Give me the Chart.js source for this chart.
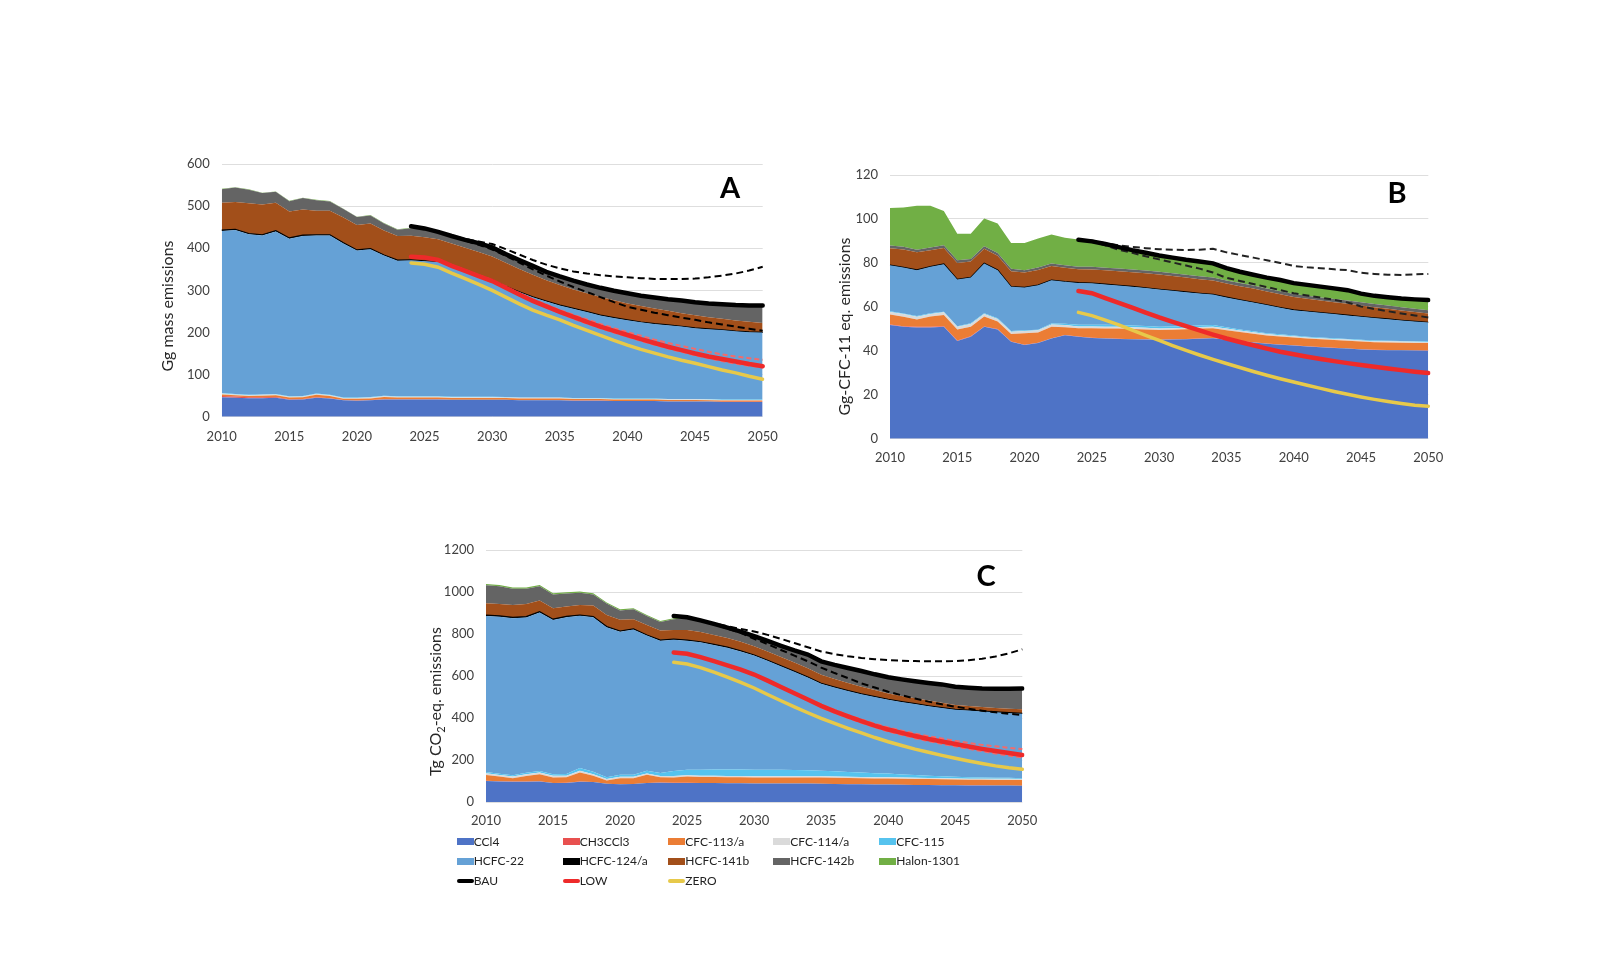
<!DOCTYPE html>
<html>
<head>
<meta charset="utf-8">
<script src="https://cdn.jsdelivr.net/npm/chart.js@4.4.1/dist/chart.umd.min.js"></script>
<style>
  html, body { margin: 0; padding: 0; background: #fff; }
  body { width: 1600px; height: 970px; position: relative; overflow: hidden; font-family: Lato, "Open Sans", sans-serif; }
  canvas { position: absolute; }
  .item { position: absolute; white-space: nowrap; font-size: 12px; color: #222; line-height: 14px; }
  .sw { position: absolute; left: 0; }
  .item span.txt { position: absolute; left: 17px; top: 0; }
</style>
</head>
<body>
<canvas id="chartA" width="640" height="320" style="left:150px;top:140px"></canvas>
<canvas id="chartB" width="650" height="320" style="left:810px;top:150px"></canvas>
<canvas id="chartC" width="640" height="310" style="left:410px;top:525px"></canvas>
<div id="legend"></div>
<script>
// ---- categories
const years = [2010,2011,2012,2013,2014,2015,2016,2017,2018,2019,2020,2021,2022,2023,2024,2025,2026,2027,2028,2029,
               2030,2031,2032,2033,2034,2035,2036,2037,2038,2039,2040,2041,2042,2043,2044,2045,2046,2047,2048,2049,2050];

const gasNames  = ['CCl4','CH3CCl3','CFC-113/a','CFC-114/a','CFC-115','HCFC-22','HCFC-124/a','HCFC-141b','HCFC-142b','Halon-1301'];
const gasColors = ['#4E73C6','#E8504F','#EB7D35','#DADADA','#56C3EE','#65A1D6','#000000','#A24F1A','#646464','#71AF45'];

// ---- A: Gg mass emissions
const ccl4A    = [46,45,44,44,45,40,41,45,43,39,38,39,41,41,41,41,41,40,40,40,40,40,39,39,39,39,38,38,38,37,37,37,37,36,36,36,36,35,35,35,35];
const ch3ccl3A = [3,3,2,2,2,1.5,1,1,1,0.5,0.5,0.5,0.5,0.5,0.5,0.3,0.3,0.3,0.3,0.3,0.3,0.3,0.3,0.3,0.3,0.3,0.3,0.3,0.3,0.3,0.3,0.3,0.3,0.3,0.3,0.3,0.3,0.3,0.3,0.3,0.3];
const cfc113A  = [4,3,3,4,4,4,4,6,5,3,4,4,5,4,4,4,4,4,4,4,4,4,4,4,4,4,3.5,3.5,3.5,3.5,3.5,3.5,3.5,3.5,3.5,3.5,3,3,3,3,3];
const cfc114A  = [2,2,2,2,2,2,2,2,2,2,2,2,2,2,2,2,2,2,2,2,2,1.5,1.5,1.5,1.5,1.5,1.5,1.5,1.5,1.5,1.5,1.5,1.5,1.5,1.5,1.5,1.5,1.5,1.5,1.5,1.5];
const cfc115A  = [1,1,1,1,1,1,1,1,1,1,1,1,1,1,1,1,1,1,1,1,1,1,1,1,1,1,1,1,1,1,1,1,1,1,1,1,1,1,1,1,1];
const hcfc22A  = [385,389,381,377,386,374,380,375,378,366,349,351,333,322,323,321,319,310,299,287,277,262,250,238,228,218,212,204,196,191,186,181,177,175,172,168,166,165,162,160,159];
const hcfc124A = [2,2,2,2,2,2,2,2,2,1.5,1.5,1.5,1.5,1.5,1,1,1,1,1,1,1,1,1,1,1,1,1,1,1,1,0.5,0.5,0.5,0.5,0.5,0.5,0.5,0.5,0.5,0.5,0.5];
const hcfc141bA = [65,65,72,72,66,63,61,57,57,60,59,60,58,57,57,56,53,53,54,56,55,56,54,52,49,48,45,44,43,41,39,38,36,34,31,30,28,26,25,24,22];
const hcfc142bA = [32,34,32,27,26,24,27,25,22,20,19,19,17,15,18,20,17,17,18,20,21,19,20,20,19,19,20,20,21,22,23,23,25,26,29,30,32,34,36,38,41];
const halonA   = [1,1,1,1,1,1,1,1,1,1,1,1,1,1,1,1,1,1,1,1,1,1,1,1,1,1,1,1,1,1,1,1,1,1,1,1,1,1,1,1,1];

const bauA     = [452,447,439,429,420,412,402,386,372,358,344,333,323,314,306,299,293,287,283,279,276,272,269,267,265,264,264]; // from 2024
const bauHighA = [447,440,430,422,416,410,398,385,372,361,352,345,340,336,333,331,329,327,327,327,328,331,335,340,347,356]; // from 2025
const bauLowA  = [447,439,429,418,408,397,382,366,350,335,321,308,296,284,272,261,254,247,241,235,230,224,219,214,209,204]; // from 2025
const lowA     = [380,378,372,358,346,334,322,306,290,275,262,249,237,225,214,204,194,184,175,166,158,150,143,137,131,125,120]; // from 2024
const lowHighA = [380,378,373,360,348,336,324,309,293,279,266,253,242,231,220,210,201,192,183,175,168,161,154,148,143,139,135];
const lowLowA  = [380,378,371,357,344,332,320,304,288,273,259,246,233,221,210,200,190,180,171,162,154,146,139,132,126,121,117];
const zeroA    = [365,362,355,341,328,314,300,284,268,253,241,230,217,205,193,181,170,160,151,142,134,127,119,111,104,96,89];

// ---- B: Gg CFC-11 eq. emissions
const ccl4B    = [51.7,50.9,50.6,50.6,50.9,44.5,46.4,50.9,49.7,44.1,42.6,43.6,45.6,47.1,46.4,45.8,45.6,45.4,45.2,45.1,45.0,45.1,45.3,45.5,45.7,45.0,44.4,43.8,43.2,42.8,42.4,42.0,41.6,41.3,41.0,40.6,40.4,40.3,40.2,40.1,40.0];
const ch3ccl3B = [0.3,0.3,0.3,0.3,0.3,0.2,0.2,0.2,0.2,0.1,0.1,0.1,0.1,0.1,0.1,0.1,0.1,0.1,0.1,0.1,0.1,0.1,0.1,0.1,0.1,0.1,0.1,0.1,0.1,0.1,0.1,0.1,0.1,0.1,0.1,0.1,0.1,0.1,0.1,0.1,0.1];
const cfc113B  = [4.5,4.3,3.4,4.7,5.1,5.0,4.4,4.5,3.4,3.5,5.3,4.6,5.3,3.5,3.8,4.4,4.5,4.6,4.6,4.5,4.4,4.4,4.4,4.5,4.5,4.3,4.1,3.9,3.7,3.6,3.5,3.5,3.5,3.5,3.5,3.5,3.4,3.4,3.4,3.4,3.4];
const cfc114B  = [1.2,1.2,1.2,1.2,1.2,1.2,1.2,1.2,1.2,1.0,1.0,1.0,1.0,1.0,0.8,0.8,0.8,0.8,0.8,0.8,0.7,0.7,0.7,0.7,0.7,0.7,0.6,0.6,0.6,0.6,0.6,0.5,0.5,0.5,0.5,0.5,0.5,0.5,0.5,0.5,0.5];
const cfc115B  = [0.3,0.3,0.3,0.3,0.3,0.3,0.3,0.3,0.3,0.3,0.3,0.3,0.4,0.6,0.8,0.8,0.8,0.8,0.8,0.8,0.8,0.8,0.8,0.7,0.7,0.6,0.5,0.5,0.4,0.4,0.4,0.3,0.3,0.3,0.3,0.3,0.3,0.3,0.3,0.3,0.3];
const hcfc22B  = [20.9,20.9,20.9,21.1,21.6,21.2,20.8,22.6,21.9,20.1,19.5,20.2,19.7,19.1,19.0,18.8,18.4,18.0,17.7,17.3,16.9,16.2,15.4,14.6,13.9,13.6,13.4,13.1,12.8,12.1,11.5,11.5,11.3,11.0,10.7,10.5,10.2,9.8,9.3,8.9,8.6];
const hcfc124B = [0.1,0.1,0.1,0.1,0.1,0.1,0.1,0.1,0.1,0.1,0.1,0.1,0.1,0.1,0.1,0.1,0.1,0.1,0.1,0.1,0.1,0.1,0.1,0.1,0.1,0.1,0.1,0.1,0.1,0.1,0.1,0.1,0.1,0.1,0.1,0.1,0.1,0.1,0.1,0.1,0.1];
const hcfc141bB = [7.7,8.1,8.0,7.5,7.3,7.5,7.2,6.6,6.5,7.0,6.7,6.9,6.4,6.3,6.1,6.2,6.3,6.4,6.5,6.6,6.7,6.6,6.5,6.4,6.3,6.2,6.2,6.2,6.1,6.0,5.9,5.7,5.5,5.3,5.2,5.0,4.8,4.6,4.4,4.2,4.0];
const hcfc142bB = [1.2,1.2,1.2,1.2,1.2,1.2,1.2,1.2,1.2,1.1,1.1,1.1,1.1,1.1,1.1,1.2,1.2,1.2,1.2,1.2,1.3,1.3,1.3,1.3,1.3,1.4,1.4,1.4,1.4,1.4,1.4,1.4,1.4,1.5,1.5,1.5,1.5,1.5,1.5,1.5,1.5];
const halonB   = [17.1,17.9,20.0,19.0,15.6,12.1,11.5,12.6,13.4,11.8,12.4,13.2,13.2,12.5,12.4,11.6,10.8,9.8,8.8,8.1,7.4,7.1,6.8,6.7,6.5,5.6,5.2,4.9,4.9,5.1,4.9,4.9,4.9,4.8,4.7,3.9,3.7,3.8,4.0,4.3,4.6];

const bauB     = [90.5,89.8,88.6,87.2,85.8,84.6,83.4,82.4,81.4,80.6,79.8,77.6,76.0,74.6,73.3,72.2,70.8,70.0,69.2,68.4,67.6,66.0,65.0,64.4,63.8,63.4,63.1]; // from 2024
const bauHighB = [90.5,90.2,89.0,88.0,87.3,86.7,86.2,86.0,85.9,86.0,86.4,84.8,83.6,82.4,81.2,80.0,78.6,78.0,77.6,77.1,76.7,75.5,75.0,74.6,74.5,74.8,75.0];
const bauLowB  = [90.5,89.8,88.0,86.0,84.6,83.0,81.6,80.2,78.8,77.4,75.6,73.2,71.8,70.4,69.0,67.6,66.2,65.2,64.2,63.2,62.0,60.2,59.0,58.0,57.0,56.1,55.2];
const lowB     = [67.2,66.2,64.0,61.8,59.6,57.4,55.2,53.2,51.2,49.3,47.4,45.6,44.0,42.5,41.0,39.6,38.4,37.3,36.3,35.3,34.4,33.5,32.7,31.9,31.2,30.5,29.9];
const zeroB    = [57.5,56.0,54.0,51.8,49.4,47.0,44.7,42.4,40.2,38.1,36.1,34.2,32.4,30.6,28.9,27.3,25.8,24.3,22.9,21.5,20.2,19.0,17.9,16.9,16.0,15.2,14.8];

// ---- C: Tg CO2-eq. emissions
const ccl4C    = [100,98,97,97,98,90,91,97,95,87,84,86,90,92,91,91,90,90,89,89,88,88,88,88,88,87,86,85,84,83,83,82,81,81,80,80,79,79,78,78,77];
const ch3ccl3C = [1,1,1,1,1,0.5,0.5,0.5,0.5,0.3,0.3,0.3,0.3,0.3,0.2,0.2,0.2,0.2,0.2,0.2,0.2,0.2,0.2,0.2,0.2,0.2,0.2,0.2,0.2,0.2,0.2,0.2,0.2,0.2,0.2,0.2,0.2,0.2,0.2,0.2,0.2];
const cfc113C  = [28,22,15,26,33,26,26,43,29,15,29,27,39,25,26,30,29,29,29,29,29,29,29,29,29,29,29,29,29,29,29,28,28,28,28,27,27,27,27,27,27];
const cfc114C  = [8,8,8,8,8,8,8,8,8,7,7,7,7,7,7,6,6,6,6,6,6,6,6,6,6,6,6,6,6,6,6,6,6,5,5,5,5,5,5,5,5];
const cfc115C  = [6,6,6,7,8,8,8,14,12,9,10,10,12,14,23,26,28,29,30,30,30,30,30,29,28,27,25,23,21,19,17,15,13,11,9,8,7,6,5,5,4];
const hcfc22C  = [743,747,748,740,754,734,746,724,735,714,681,691,644,630,626,615,607,593,580,563,545,520,493,468,442,414,399,385,373,363,352,345,338,331,325,319,317,314,312,308,307];
const hcfc124C = [4,4,4,4,4,4,4,4,4,3,3,3,3,3,3,3,3,3,3,3,2,2,2,2,2,2,2,2,2,2,2,2,2,2,2,2,2,2,2,2,2];
const hcfc141bC = [56,57,59,60,53,52,47,48,52,55,53,46,48,45,43,48,46,45,44,43,42,42,42,42,42,41,39,37,34,31,28,27,26,25,23,21,20,19,19,19,19];
const hcfc142bC = [86,84,78,73,68,66,62,58,53,55,45,47,42,41,51,57,52,49,45,44,44,46,51,55,62,61,64,68,72,72,74,76,78,81,85,84,84,86,89,93,97];
const halonC   = [6,6,6,6,6,6,6,6,6,5,5,5,5,5,5,4,4,4,4,4,4,4,3,3,3,3,3,3,3,3,3,3,3,3,3,3,3,2,2,2,2];

const bauC     = [886,880,865,848,830,811,790,767,744,722,702,670,653,638,624,608,594,584,575,567,560,549,544,540,539,539,540]; // from 2024
const bauHighC = [880,865,850,837,824,812,796,777,757,737,717,704,694,686,680,676,673,671,670,670,671,675,682,693,708,727]; // from 2025
const bauLowC  = [880,865,846,826,805,777,752,724,697,670,640,614,590,565,545,525,508,493,478,465,454,444,435,427,420,414]; // from 2025
const lowC     = [712,706,690,671,651,630,607,578,548,518,488,458,432,408,385,364,345,329,314,300,288,276,264,253,243,233,224];
const lowHighC = [712,706,690,671,651,630,608,580,551,522,493,464,439,415,393,373,355,340,326,313,302,291,281,272,265,258,252];
const lowLowC  = [712,706,690,671,651,630,606,576,545,514,483,452,425,400,377,356,336,320,304,290,277,265,253,242,231,221,212];
const zeroC    = [665,657,640,618,595,570,543,512,482,453,425,398,374,351,329,307,287,269,252,237,222,208,195,183,172,163,156];

// ---- helpers
function fromYear(start, values) {
  return years.map(y => (y < start ? null : values[y - start]));
}

const textPlugin = {
  id: 'panelText',
  afterDraw(chart, args, opts) {
    const ctx = chart.ctx;
    ctx.save();
    ctx.fillStyle = '#000';
    ctx.font = 'bold 29px Lato';
    ctx.textAlign = 'center';
    ctx.textBaseline = 'middle';
    ctx.fillText(opts.letter, opts.letterX, opts.letterY);

    // rotated y title, parts allow a subscript
    ctx.translate(opts.titleX, opts.titleY);
    ctx.rotate(-Math.PI / 2);
    ctx.fillStyle = '#262626';
    ctx.textAlign = 'left';
    const big = '16px Lato', small = '11px Lato';
    let total = 0;
    opts.title.forEach(p => { ctx.font = p.sub ? small : big; total += ctx.measureText(p.t).width; });
    let x = -total / 2;
    opts.title.forEach(p => {
      ctx.font = p.sub ? small : big;
      ctx.fillText(p.t, x, p.sub ? 5 : 0);
      x += ctx.measureText(p.t).width;
    });
    ctx.restore();
  }
};

function makeChart(id, cfg) {
  const datasets = cfg.gases.map((vals, i) => ({
    label: gasNames[i],
    data: vals,
    stack: 'gases',
    backgroundColor: gasColors[i],
    borderColor: gasColors[i],
    borderWidth: gasNames[i] === 'HCFC-124/a' ? 1.2 : 0,
    pointRadius: 0,
    fill: i === 0 ? 'origin' : '-1',
    order: 3
  }));
  cfg.lines.forEach((ln, i) => {
    datasets.push({
      label: ln.name,
      data: fromYear(ln.start, ln.values),
      stack: 'line' + i,
      borderColor: ln.color,
      borderWidth: ln.width,
      borderDash: ln.dash || [],
      borderCapStyle: ln.dash ? 'butt' : 'round',
      pointRadius: 0,
      fill: false,
      order: ln.order
    });
  });

  return new Chart(document.getElementById(id), {
    type: 'line',
    data: { labels: years, datasets: datasets },
    options: {
      responsive: false,
      animation: false,
      layout: { padding: { top: cfg.padTop, right: cfg.padRight, left: 0, bottom: 0 } },
      scales: {
        x: {
          grid: { display: false },
          border: { display: false },
          ticks: {
            autoSkip: false, maxRotation: 0, padding: cfg.xPad,
            color: '#404040', font: { family: 'Lato', size: 13 },
            callback: (v, i) => (years[i] % 5 === 0 ? String(years[i]) : '')
          },
          afterFit: s => { s.height = cfg.xHeight; }
        },
        y: {
          stacked: true,
          min: 0, max: cfg.yMax,
          ticks: { stepSize: cfg.yStep, padding: 12, color: '#404040', font: { family: 'Lato', size: 13 },
                   callback: v => String(v) },
          grid: { color: '#DEDEDE', drawTicks: false },
          border: { display: false },
          afterFit: s => { s.width = cfg.yWidth; }
        }
      },
      plugins: {
        legend: { display: false },
        tooltip: { enabled: false },
        panelText: cfg.text
      }
    },
    plugins: [textPlugin]
  });
}

const BLACK = '#000000', RED = '#EE2A2A', REDDASH = '#F46A6A', YELLOW = '#E7C94A';

makeChart('chartA', {
  gases: [ccl4A, ch3ccl3A, cfc113A, cfc114A, cfc115A, hcfc22A, hcfc124A, hcfc141bA, hcfc142bA, halonA],
  lines: [
    { name: 'BAU high', start: 2025, values: bauHighA, color: BLACK, width: 2, dash: [7, 4], order: 1 },
    { name: 'BAU low', start: 2025, values: bauLowA, color: BLACK, width: 2, dash: [7, 4], order: 1 },
    { name: 'LOW high', start: 2024, values: lowHighA, color: REDDASH, width: 2, dash: [5, 3], order: 1 },
    { name: 'LOW low', start: 2024, values: lowLowA, color: REDDASH, width: 2, dash: [5, 3], order: 1 },
    { name: 'BAU', start: 2024, values: bauA, color: BLACK, width: 4.5, order: 0 },
    { name: 'LOW', start: 2024, values: lowA, color: RED, width: 4.5, order: 0 },
    { name: 'ZERO', start: 2024, values: zeroA, color: YELLOW, width: 3.5, order: 0 }
  ],
  yMax: 600, yStep: 100,
  yWidth: 71.7, padTop: 24, padRight: 27.3, xHeight: 43.3, xPad: 4,
  text: { letter: 'A', letterX: 580, letterY: 49, title: [{ t: 'Gg mass emissions' }], titleX: 18, titleY: 166 }
});

makeChart('chartB', {
  gases: [ccl4B, ch3ccl3B, cfc113B, cfc114B, cfc115B, hcfc22B, hcfc124B, hcfc141bB, hcfc142bB, halonB],
  lines: [
    { name: 'BAU high', start: 2024, values: bauHighB, color: '#222', width: 2, dash: [7, 4], order: 1 },
    { name: 'BAU low', start: 2024, values: bauLowB, color: '#222', width: 2, dash: [7, 4], order: 1 },
    { name: 'BAU', start: 2024, values: bauB, color: BLACK, width: 4.5, order: 0 },
    { name: 'LOW', start: 2024, values: lowB, color: RED, width: 4.5, order: 0 },
    { name: 'ZERO', start: 2024, values: zeroB, color: YELLOW, width: 3.5, order: 0 }
  ],
  yMax: 120, yStep: 20,
  yWidth: 80, padTop: 25, padRight: 31.7, xHeight: 31.3, xPad: 3.5,
  text: { letter: 'B', letterX: 587, letterY: 44, title: [{ t: 'Gg-CFC-11 eq. emissions' }], titleX: 35, titleY: 176.5 }
});

makeChart('chartC', {
  gases: [ccl4C, ch3ccl3C, cfc113C, cfc114C, cfc115C, hcfc22C, hcfc124C, hcfc141bC, hcfc142bC, halonC],
  lines: [
    { name: 'BAU high', start: 2025, values: bauHighC, color: BLACK, width: 2, dash: [7, 4], order: 1 },
    { name: 'BAU low', start: 2025, values: bauLowC, color: BLACK, width: 2, dash: [7, 4], order: 1 },
    { name: 'LOW high', start: 2024, values: lowHighC, color: REDDASH, width: 2, dash: [5, 3], order: 1 },
    { name: 'LOW low', start: 2024, values: lowLowC, color: REDDASH, width: 2, dash: [5, 3], order: 1 },
    { name: 'BAU', start: 2024, values: bauC, color: BLACK, width: 4.5, order: 0 },
    { name: 'LOW', start: 2024, values: lowC, color: RED, width: 4.5, order: 0 },
    { name: 'ZERO', start: 2024, values: zeroC, color: YELLOW, width: 3.5, order: 0 }
  ],
  yMax: 1200, yStep: 200,
  yWidth: 76, padTop: 25, padRight: 27.7, xHeight: 33, xPad: 3.5,
  text: { letter: 'C', letterX: 576, letterY: 52,
          title: [{ t: 'Tg CO' }, { t: '2', sub: true }, { t: '-eq. emissions' }], titleX: 26, titleY: 176.5 }
});

// ---- legend (under chart C)
const legendCols = [456.7, 562.7, 668.3, 773.3, 879.3];
const legendRowsY = [841.7, 861, 880.7];
const scenarioNames = ['BAU', 'LOW', 'ZERO'];
const scenarioColors = [BLACK, RED, YELLOW];
const legend = document.getElementById('legend');
function addItem(name, color, col, row, isLine) {
  const d = document.createElement('div');
  d.className = 'item';
  d.style.left = legendCols[col] + 'px';
  d.style.top = (legendRowsY[row] - 7) + 'px';
  const sw = document.createElement('div');
  sw.className = 'sw';
  sw.style.background = color;
  sw.style.width = '17px';
  if (isLine) { sw.style.height = '4px'; sw.style.top = '5px'; sw.style.borderRadius = '2px'; }
  else { sw.style.height = '7px'; sw.style.top = '3.5px'; }
  const t = document.createElement('span');
  t.className = 'txt';
  t.textContent = name;
  d.appendChild(sw); d.appendChild(t);
  legend.appendChild(d);
}
gasNames.forEach((n, i) => addItem(n, gasColors[i], i % 5, Math.floor(i / 5), false));
scenarioNames.forEach((n, i) => addItem(n, scenarioColors[i], i, 2, true));
</script>
</body>
</html>
